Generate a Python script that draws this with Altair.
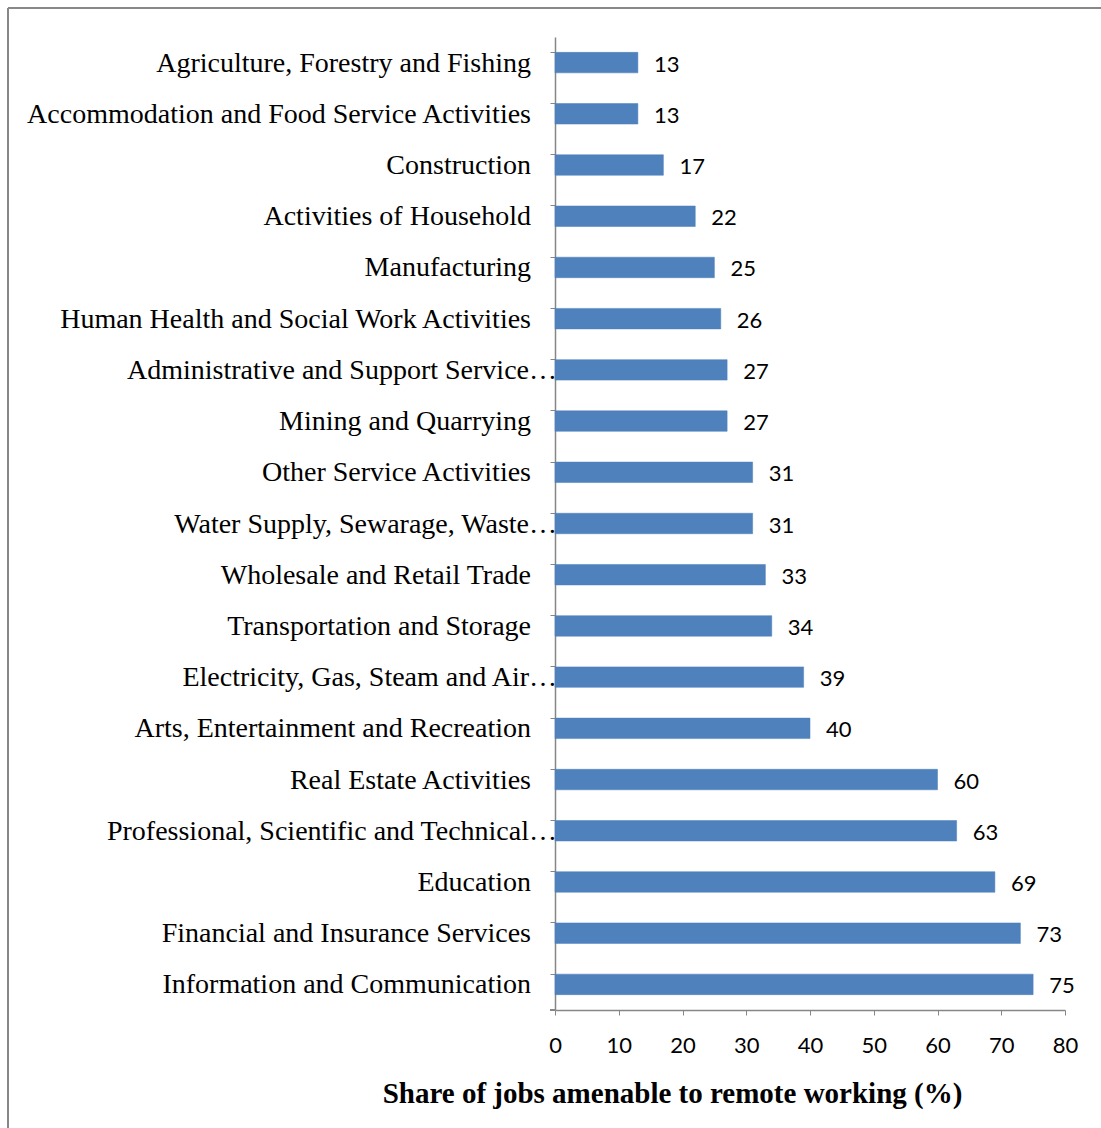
import altair as alt
import pandas as pd

categories = [
    "Agriculture, Forestry and Fishing",
    "Accommodation and Food Service Activities",
    "Construction",
    "Activities of Household",
    "Manufacturing",
    "Human Health and Social Work Activities",
    "Administrative and Support Service…",
    "Mining and Quarrying",
    "Other Service Activities",
    "Water Supply, Sewarage, Waste…",
    "Wholesale and Retail Trade",
    "Transportation and Storage",
    "Electricity, Gas, Steam and Air…",
    "Arts, Entertainment and Recreation",
    "Real Estate Activities",
    "Professional, Scientific and Technical…",
    "Education",
    "Financial and Insurance Services",
    "Information and Communication",
]
values = [13, 13, 17, 22, 25, 26, 27, 27, 31, 31, 33, 34, 39, 40, 60, 63, 69, 73, 75]

df = pd.DataFrame({"sector": categories, "share": values})

W, H = 510, 973
LEFT, TOP = 555, 37

y_enc = alt.Y(
    "sector:N",
    sort=categories,
    scale=alt.Scale(paddingInner=0.6, paddingOuter=0.3),
    axis=alt.Axis(
        title=None,
        bandPosition=0,
        labels=False,
        domainColor="#868686",
        domainWidth=1.5,
        tickColor="#868686",
        tickSize=5,
        grid=False,
    ),
)
x_enc = alt.X(
    "share:Q",
    scale=alt.Scale(domain=[0, 80], nice=False),
    axis=alt.Axis(
        values=list(range(0, 81, 10)),
        title="Share of jobs amenable to remote working (%)",
        titleFont="Liberation Serif",
        titleFontSize=29,
        titleFontWeight="bold",
        titleColor="black",
        titleX=117,
        titleY=92,
        titleBaseline="alphabetic",
        titleAlign="center",
        labelFont="Lato",
        labelFontSize=22,
        labelColor="black",
        labelPadding=20,
        labelFlush=False,
        domainColor="#868686",
        domainWidth=1.5,
        tickColor="#868686",
        tickSize=5,
        grid=False,
    ),
)

bars = alt.Chart(df).mark_bar(color="#4F81BD", stroke="#4A7EBB", strokeWidth=0.5).encode(
    x=x_enc, y=y_enc
)
values_text = alt.Chart(df).mark_text(
    align="left", baseline="middle", dx=16, dy=2, font="Lato", fontSize=22, color="black"
).encode(x="share:Q", y=alt.Y("sector:N", sort=categories), text="share:Q")

truncated = "indexof(datum.sector, '…') >= 0"
cat_full = alt.Chart(df).transform_filter("!(" + truncated + ")").mark_text(
    align="right", baseline="middle", dy=1, font="Liberation Serif", fontSize=28, color="black"
).encode(x=alt.value(-24), y=alt.Y("sector:N", sort=categories), text="sector:N")
cat_trunc = alt.Chart(df).transform_filter(truncated).mark_text(
    align="right", baseline="middle", dy=1, font="Liberation Serif", fontSize=28, color="black"
).encode(x=alt.value(2), y=alt.Y("sector:N", sort=categories), text="sector:N")

frame_top = alt.Chart(df).mark_rule(color="#888888", strokeWidth=2).encode(
    x=alt.value(8 - LEFT), x2=alt.value(1101 - LEFT + 10), y=alt.value(8 - TOP)
)
frame_left = alt.Chart(df).mark_rule(color="#888888", strokeWidth=2).encode(
    x=alt.value(8 - LEFT), y=alt.value(8 - TOP), y2=alt.value(1128 - TOP + 10)
)
bottom_tick = alt.Chart(df).mark_rule(color="#868686", strokeWidth=1).encode(
    x=alt.value(-5), x2=alt.value(0), y=alt.value(H)
)

chart = alt.layer(
    frame_top, frame_left, bars, values_text, cat_full, cat_trunc, bottom_tick
).properties(
    width=W,
    height=H,
    autosize=alt.AutoSizeParams(type="none"),
    padding={"left": LEFT, "top": TOP, "right": 1101 - LEFT - W, "bottom": 1128 - TOP - H},
    background="white",
).configure_view(stroke=None)

chart.save("out.html", embed_options={"renderer": "svg", "actions": False})
